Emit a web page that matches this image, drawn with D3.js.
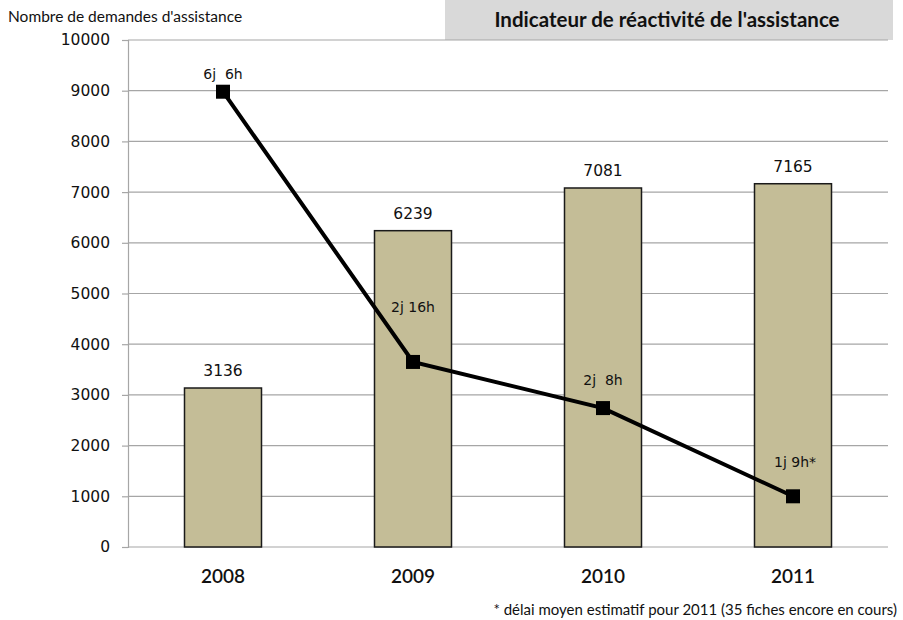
<!DOCTYPE html>
<html>
<head>
<meta charset="utf-8">
<script src="https://cdn.jsdelivr.net/npm/d3@7"></script>
<style>
  body { margin: 0; background: #fff; }
</style>
</head>
<body>
<div id="chart"></div>
<script>
const years = ["2008", "2009", "2010", "2011"];
const demandes = [3136, 6239, 7081, 7165];
const delaiPos = [8980, 3650, 2740, 1000];
const delaiLabels = ["6j  6h", "2j 16h", "2j  8h", "1j 9h*"];
const yTicks = [0, 1000, 2000, 3000, 4000, 5000, 6000, 7000, 8000, 9000, 10000];

const W = 903, H = 620;
const margin = { top: 40, right: 15, bottom: 73, left: 128 };
const width = W - margin.left - margin.right;
const height = H - margin.top - margin.bottom;

const svg = d3.select("#chart").append("svg")
  .attr("width", W).attr("height", H);

// Title box
svg.append("rect")
  .attr("x", 445).attr("y", 0).attr("width", 448).attr("height", 40)
  .attr("fill", "#d9d9d9");
svg.append("text")
  .attr("x", 667).attr("y", 27)
  .attr("text-anchor", "middle")
  .style("font-family", "Lato, 'Open Sans', sans-serif")
  .style("font-weight", "700")
  .style("font-size", "20.5px")
  .style("fill", "#111")
  .text("Indicateur de réactivité de l'assistance");

svg.append("text")
  .attr("x", 8).attr("y", 22)
  .style("font-family", "Lato, 'Open Sans', sans-serif")
  .style("font-size", "15.5px")
  .style("fill", "#111")
  .text("Nombre de demandes d'assistance");

const g = svg.append("g").attr("transform", `translate(${margin.left},${margin.top})`);

const xc = d3.scaleBand().domain(years).range([0, width]);
const y = d3.scaleLinear().domain([0, 10000]).range([height, 0]);

// Grid
g.append("g")
  .selectAll("line")
  .data(yTicks.filter(d => d > 0))
  .enter().append("line")
  .attr("x1", 0).attr("x2", width)
  .attr("y1", d => y(d)).attr("y2", d => y(d))
  .attr("stroke", "#a6a6a6").attr("stroke-width", 1.2);

// Y axis
const yAxis = g.append("g")
  .call(d3.axisLeft(y).tickValues(yTicks).tickSize(6).tickPadding(12).tickFormat(d3.format("d")));
yAxis.select(".domain").attr("stroke", "#a6a6a6").attr("stroke-width", 1.2);
yAxis.selectAll(".tick line").attr("stroke", "#a6a6a6").attr("stroke-width", 1.2);
yAxis.selectAll("text")
  .style("font-family", "'DejaVu Sans', Verdana, sans-serif")
  .style("font-size", "15.5px")
  .style("fill", "#111");

// X axis line
g.append("line")
  .attr("x1", 0).attr("x2", width)
  .attr("y1", height).attr("y2", height)
  .attr("stroke", "#a6a6a6").attr("stroke-width", 1.2);

// Bars
g.selectAll("rect.bar")
  .data(demandes)
  .enter().append("rect")
  .attr("class", "bar")
  .attr("x", (d, i) => xc(years[i]) + xc.bandwidth() / 2 - 38.5)
  .attr("width", 77)
  .attr("y", d => y(d))
  .attr("height", d => height - y(d))
  .attr("fill", "#c4bd97")
  .attr("stroke", "#1a1a1a")
  .attr("stroke-width", 1.5);

// Bar labels
g.selectAll("text.val")
  .data(demandes)
  .enter().append("text")
  .attr("class", "val")
  .attr("x", (d, i) => xc(years[i]) + xc.bandwidth() / 2)
  .attr("y", d => y(d) - 12)
  .attr("text-anchor", "middle")
  .style("font-family", "'DejaVu Sans', Verdana, sans-serif")
  .style("font-size", "15.5px")
  .style("fill", "#111")
  .text(d => d);

// X labels
g.selectAll("text.year")
  .data(years)
  .enter().append("text")
  .attr("class", "year")
  .attr("x", d => xc(d) + xc.bandwidth() / 2)
  .attr("y", height + 36)
  .attr("text-anchor", "middle")
  .style("font-family", "Lato, 'Open Sans', sans-serif")
  .style("font-size", "19px")
  .style("font-weight", "600")
  .style("fill", "#111")
  .text(d => d);

// Line
const line = d3.line()
  .x((d, i) => xc(years[i]) + xc.bandwidth() / 2)
  .y(d => y(d));
g.append("path")
  .datum(delaiPos)
  .attr("d", line)
  .attr("fill", "none")
  .attr("stroke", "#000")
  .attr("stroke-width", 4);

g.selectAll("rect.mk")
  .data(delaiPos)
  .enter().append("rect")
  .attr("class", "mk")
  .attr("x", (d, i) => xc(years[i]) + xc.bandwidth() / 2 - 7)
  .attr("y", d => y(d) - 7)
  .attr("width", 14).attr("height", 14)
  .attr("fill", "#000");

// Line labels (baseline distance above the marker)
const labelOffsets = [13, 50, 23, 29];
g.selectAll("text.dl")
  .data(delaiPos)
  .enter().append("text")
  .attr("class", "dl")
  .attr("x", (d, i) => xc(years[i]) + xc.bandwidth() / 2 + (i === 3 ? 2 : 0))
  .attr("y", (d, i) => y(d) - labelOffsets[i])
  .attr("text-anchor", "middle")
  .style("font-family", "'DejaVu Sans', Verdana, sans-serif")
  .style("font-size", "14px")
  .style("fill", "#111")
  .style("white-space", "pre")
  .text((d, i) => delaiLabels[i]);

// Footnote
svg.append("text")
  .attr("x", 897).attr("y", 615)
  .attr("text-anchor", "end")
  .style("font-family", "Lato, 'Open Sans', sans-serif")
  .style("font-size", "15px")
  .style("fill", "#111")
  .text("* délai moyen estimatif pour 2011 (35 fiches encore en cours)");
</script>
</body>
</html>
